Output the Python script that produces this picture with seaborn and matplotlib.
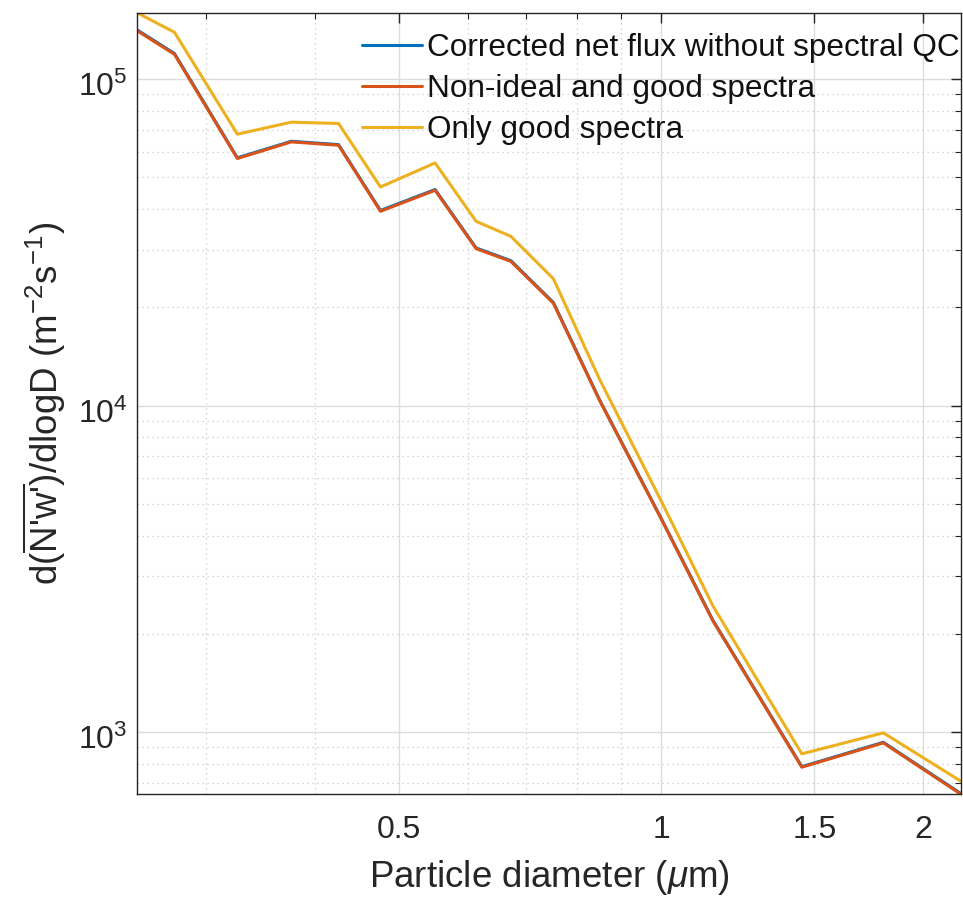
import numpy as np
import pandas as pd
import matplotlib
matplotlib.use("Agg")
import matplotlib.pyplot as plt
import matplotlib.ticker as mticker
import matplotlib.transforms as mtransforms
import seaborn as sns

# ---- data ----
diameter = [0.250, 0.276, 0.326, 0.376, 0.426, 0.476, 0.550, 0.613, 0.672, 0.752,
            0.850, 1.000, 1.147, 1.451, 1.800, 2.211]
flux_noqc = [141500, 119800, 57400, 64500, 63000, 39600, 45900, 30400, 27800, 20700,
             10400, 4520, 2200, 784, 931, 648]
flux_nonideal_good = [140700, 119100, 57120, 64220, 62730, 39370, 45650, 30250, 27650, 20590,
                      10360, 4502, 2190, 781, 927, 645]
flux_good = [159700, 139100, 67810, 73800, 73120, 46720, 55360, 36680, 32990, 24470,
             12020, 5112, 2435, 858, 995, 707]
series_names = ["Corrected net flux without spectral QC",
                "Non-ideal and good spectra",
                "Only good spectra"]
colors = ["#0072BD", "#D95319", "#EDB120"]
x_major = [0.5, 1, 1.5, 2]
x_major_labels = ["0.5", "1", "1.5", "2"]

df = pd.concat([
    pd.DataFrame({"d": diameter, "flux": vals, "series": name})
    for name, vals in zip(series_names, [flux_noqc, flux_nonideal_good, flux_good])
], ignore_index=True)

sns.set_theme(style="white")
plt.rcParams["font.family"] = ["Liberation Sans", "DejaVu Sans"]
plt.rcParams["mathtext.fontset"] = "custom"
plt.rcParams["mathtext.rm"] = "Liberation Sans"
plt.rcParams["mathtext.it"] = "Liberation Sans:italic"
plt.rcParams["mathtext.bf"] = "Liberation Sans:bold"

fig = plt.figure(figsize=(9.63, 9.01), dpi=100)
ax = fig.add_axes([0.1423, 0.1184, 0.8557, 0.8675])

sns.lineplot(data=df, x="d", y="flux", hue="series", hue_order=series_names,
             palette=colors, estimator=None, sort=False, linewidth=2.2, ax=ax)

ax.set_xscale("log")
ax.set_yscale("log")
ax.set_xlim(min(diameter), max(diameter))
ax.set_ylim(min(flux_nonideal_good), max(flux_good))

ax.xaxis.set_major_locator(mticker.FixedLocator(x_major))
ax.xaxis.set_major_formatter(mticker.FixedFormatter(x_major_labels))
ax.xaxis.set_minor_locator(mticker.LogLocator(base=10, subs=np.arange(1, 10), numticks=20))
ax.xaxis.set_minor_formatter(mticker.NullFormatter())
ax.yaxis.set_major_locator(mticker.LogLocator(base=10, numticks=10))
ax.yaxis.set_minor_locator(mticker.LogLocator(base=10, subs=np.arange(2, 10), numticks=20))
ax.yaxis.set_minor_formatter(mticker.NullFormatter())

ax.grid(True, which="major", color="#dcdcdc", linewidth=1.0, linestyle="-")
ax.grid(True, which="minor", color="#c8c8c8", linewidth=0.9, linestyle=(0, (1, 3)))
ax.set_axisbelow(True)

for s in ax.spines.values():
    s.set_visible(True)
    s.set_color("#262626")
    s.set_linewidth(1.0)

ax.tick_params(which="both", direction="in", top=True, right=True, colors="#262626",
               labelcolor="#262626", labelsize=23)
ax.tick_params(which="major", length=7, width=1.0)
ax.tick_params(which="minor", length=4, width=0.8)
ax.tick_params(axis="x", which="major", pad=15)
ax.tick_params(axis="y", which="major", pad=7)

ax.set_xlabel(r"Particle diameter ($\mu$m)", fontsize=26.5, color="#262626", labelpad=9)
ax.set_ylabel(r"d($\overline{\text{N'w'}}$)/dlogD (m$^{-2}$s$^{-1}$)", fontsize=26.5,
              color="#262626", labelpad=7)

leg = ax.legend(loc="upper right", bbox_to_anchor=(1.0, 0.976), frameon=False, fontsize=22.7,
                handlelength=1.9, handletextpad=0.16, labelspacing=0.35, borderaxespad=0.0,
                borderpad=0.06)
for line in leg.get_lines():
    line.set_linewidth(2.2)
for t in leg.get_texts():
    t.set_color("#111111")

fig.canvas.draw()
offset = mtransforms.ScaledTranslation(0, -5 / 100, fig.dpi_scale_trans)
for lab in ax.get_yticklabels():
    lab.set_transform(lab.get_transform() + offset)

fig.savefig("out.png", dpi=100)
